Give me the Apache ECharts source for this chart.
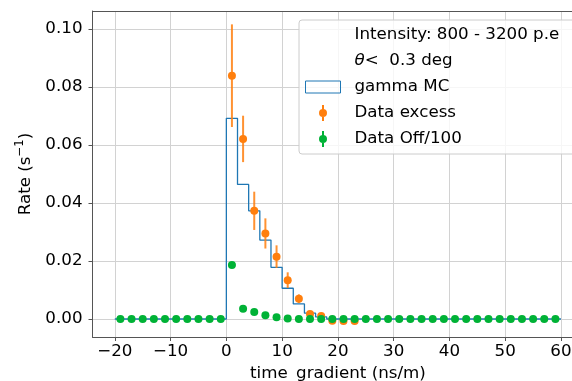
<!DOCTYPE html>
<html>
<head>
<meta charset="utf-8">
<script src="https://cdn.jsdelivr.net/npm/echarts@6/dist/echarts.min.js"></script>
<style>
html,body{margin:0;padding:0;background:#fff;}
#c{width:572px;height:381px;}
</style>
</head>
<body>
<div id="c"></div>
<script>
// ---- data ----
const binEdges = [-20,-18,-16,-14,-12,-10,-8,-6,-4,-2,0,2,4,6,8,10,12,14,16,18,20,22,24,26,28,30,32,34,36,38,40,42,44,46,48,50,52,54,56,58,60];
const mcValues = [0,0,0,0,0,0,0,0,0,0,
  0.0692,0.0464,0.0373,0.0272,0.0178,0.0106,0.0052,0.0020,0.0007,0,
  0,0,0,0,0,0,0,0,0,0,
  0,0,0,0,0,0,0,0,0,0];
const excessX = [1,3,5,7,9,11,13,15,17,19,21,23];
const excessY = [0.0839,0.0621,0.0373,0.0295,0.0215,0.0134,0.0070,0.0017,0.0010,-0.0006,-0.0007,-0.0007];
const excessErr = [0.0177,0.0080,0.0066,0.0052,0.0039,0.0027,0.0015,0.0009,0.0006,0.0005,0.0005,0.0005];
const offX = [-19,-17,-15,-13,-11,-9,-7,-5,-3,-1,1,3,5,7,9,11,13,15,17,19,21,23,25,27,29,31,33,35,37,39,41,43,45,47,49,51,53,55,57,59];
const offY = [0,0,0,0,0,0,0,0,0,0,
  0.0186,0.0035,0.0024,0.0013,0.0006,0.0002,0,0,0,0,
  0,0,0,0,0,0,0,0,0,0,
  0,0,0,0,0,0,0,0,0,0];
const legendText1 = 'Intensity: 800 - 3200 p.e';
const legendText2 = 'θ<  0.3 deg';
const nameMC = 'gamma MC';
const nameExcess = 'Data excess';
const nameOff = 'Data Off/100';
const xTitle = 'time_gradient (ns/m)';

// ---- build ----
const histData = mcValues.map((v, i) => [binEdges[i], v]);
histData.push([binEdges[binEdges.length - 1], mcValues[mcValues.length - 1]]);
const excessPts = excessX.map((x, i) => [x, excessY[i]]);
const excessBars = excessX.map((x, i) => [x, excessY[i] - excessErr[i], excessY[i] + excessErr[i]]);
const offPts = offX.map((x, i) => [x, offY[i]]);

const FONT = 'DejaVu Sans';
const FS = 16.7;
const BLUE = '#1f77b4', ORANGE = '#ff7f0e', GREEN = '#00b236';
const AX = '#555555';
const GRIDC = '#d2d2d2';
const XMIN = -24, XMAX = 64, YMIN = -0.00621, YMAX = 0.10621;

const chart = echarts.init(document.getElementById('c'), null, {renderer: 'canvas'});
chart.setOption({
  animation: false,
  backgroundColor: '#ffffff',
  textStyle: {fontFamily: FONT},
  grid: {left: 92.5, top: 11, bottom: 44, width: 490.8, containLabel: false, outerBoundsMode: 'none'},
  xAxis: [{
    type: 'value', min: XMIN, max: XMAX, minInterval: 10, maxInterval: 10,
    name: xTitle, nameLocation: 'middle', nameGap: 25,
    nameTextStyle: {fontFamily: FONT, fontSize: FS, color: '#000'},
    axisLine: {show: true, onZero: false, lineStyle: {color: AX, width: 1}},
    axisTick: {show: true, inside: false, length: 4, lineStyle: {color: AX, width: 1}},
    axisLabel: {fontFamily: FONT, fontSize: FS, color: '#000', margin: 6, showMinLabel: false, showMaxLabel: false,
      formatter: v => (v < 0 ? '\u2212' + Math.abs(v) : String(v))},
    splitLine: {show: true, lineStyle: {color: GRIDC, width: 1}}
  }, {
    type: 'value', position: 'top', min: XMIN, max: XMAX, minInterval: 10, maxInterval: 10,
    axisLine: {show: true, onZero: false, lineStyle: {color: AX, width: 1}},
    axisTick: {show: false}, axisLabel: {show: false}, splitLine: {show: false}
  }],
  yAxis: {
    type: 'value', min: YMIN, max: YMAX, minInterval: 0.02, maxInterval: 0.02,
    name: '{n|Rate (s}{sup|\u22121}{n|)}', nameLocation: 'middle', nameGap: 50,
    nameTextStyle: {fontFamily: FONT, fontSize: FS, color: '#000',
      rich: {
        n: {fontFamily: FONT, fontSize: FS, color: '#000', lineHeight: 24},
        sup: {fontFamily: FONT, fontSize: 11.7, color: '#000', verticalAlign: 'top', lineHeight: 12}
      }},
    axisLine: {show: true, onZero: false, lineStyle: {color: AX, width: 1}},
    axisTick: {show: true, inside: false, length: 4, lineStyle: {color: AX, width: 1}},
    axisLabel: {fontFamily: FONT, fontSize: FS, color: '#000', margin: 10, showMinLabel: false, showMaxLabel: false,
      formatter: v => v.toFixed(2)},
    splitLine: {show: true, lineStyle: {color: GRIDC, width: 1}}
  },
  legend: {
    show: true, orient: 'vertical', left: 299, top: 20,
    padding: [5, 30, 5, 6], itemGap: 6, itemWidth: 35, itemHeight: 16,
    backgroundColor: 'rgba(255,255,255,0.8)', borderColor: '#cccccc', borderWidth: 1, borderRadius: 3,
    selectedMode: false,
    textStyle: {fontFamily: FONT, fontSize: FS, color: '#000', lineHeight: 20, padding: [0, 0, 0, 9],
      rich: {i: {fontFamily: FONT, fontStyle: 'italic', fontSize: FS, color: '#000', lineHeight: 20}}},
    formatter: name => (name === legendText2 ? '{i|θ}' + name.slice(1) : name),
    data: [
      {name: legendText1, icon: 'circle', itemStyle: {color: 'rgba(0,0,0,0)', opacity: 0}},
      {name: legendText2, icon: 'circle', itemStyle: {color: 'rgba(0,0,0,0)', opacity: 0}},
      {name: nameMC, icon: 'path://M0,0L35,0L35,12L0,12Z', itemStyle: {color: 'rgba(0,0,0,0)', borderColor: BLUE, borderWidth: 1}},
      {name: nameExcess, icon: 'path://M3,0L5,0L5,16L3,16Z M8,8A4,4 0 1 1 0,8A4,4 0 1 1 8,8Z', itemStyle: {color: ORANGE, borderWidth: 0}},
      {name: nameOff, icon: 'path://M3,0L5,0L5,16L3,16Z M8,8A4,4 0 1 1 0,8A4,4 0 1 1 8,8Z', itemStyle: {color: GREEN, borderWidth: 0}}
    ]
  },
  series: [
    {name: legendText1, type: 'line', data: [], showSymbol: false},
    {name: legendText2, type: 'line', data: [], showSymbol: false},
    {
      name: nameMC, type: 'line', step: 'end', data: histData, showSymbol: false, z: 2,
      lineStyle: {color: BLUE, width: 1.3}, itemStyle: {color: BLUE}
    },
    {
      name: nameExcess + ' err', type: 'custom', z: 3, data: excessBars,
      renderItem: (params, api) => {
        const p1 = api.coord([api.value(0), api.value(1)]);
        const p2 = api.coord([api.value(0), api.value(2)]);
        return {type: 'line', shape: {x1: p1[0], y1: p1[1], x2: p2[0], y2: p2[1]},
          style: {stroke: ORANGE, lineWidth: 2, opacity: 0.85}};
      }
    },
    {name: nameExcess, type: 'scatter', data: excessPts, symbol: 'circle', symbolSize: 8, z: 4, itemStyle: {color: ORANGE, opacity: 1}},
    {name: nameOff, type: 'scatter', data: offPts, symbol: 'circle', symbolSize: 8, z: 5, itemStyle: {color: GREEN, opacity: 1}}
  ]
});
</script>
</body>
</html>
